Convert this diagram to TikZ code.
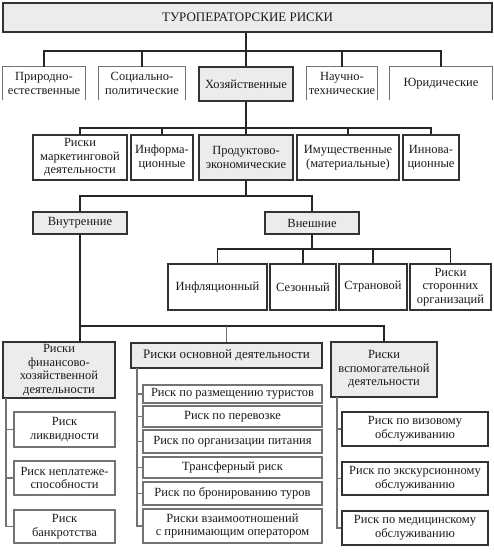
\documentclass[tikz,border=0pt]{standalone}
\usepackage{fontspec}
\setmainfont{Liberation Serif}
\definecolor{boxfill}{HTML}{ECECEC}
\definecolor{txt}{HTML}{1A1A1A}
\newcommand\bx[7]{\node[#6, minimum width={(#4-#2)*1pt}, minimum height={(#5-#3)*1pt}] (#1) at ({(#2+#4)/2},{(#3+#5)/2}) {#7};}
\begin{document}
\begin{tikzpicture}[x=1pt,y=-1pt,
  base/.style={inner sep=0pt, align=center, text=txt, font=\fontsize{12.5}{13.6}\selectfont},
  small/.style={font=\fontsize{12.5}{13.6}\selectfont},
  dark/.style={base, draw=black!80, line width=1.1pt, fill=white},
  grayfill/.style={dark, fill=boxfill},
  light/.style={base, draw=black!55, line width=1.1pt, fill=white},
  open/.style={base},
  conn/.style={draw=black!85, line width=1.1pt},
  lconn/.style={draw=black!55, line width=1.1pt}]
\useasboundingbox (0,0) rectangle (494,553);
% level 0
\bx{top}{3}{3}{492}{32}{grayfill, font=\fontsize{13}{14}\selectfont}{ТУРОПЕРАТОРСКИЕ РИСКИ}
% level 1
\bx{pri}{3}{67}{85}{100}{open}{Природно-\\естественные}
\bx{soc}{99}{67}{185}{100}{open}{Социально-\\политические}
\bx{hoz}{199}{67}{293}{101}{grayfill}{Хозяйственные}
\bx{nau}{307}{67}{377}{100}{open}{Научно-\\технические}
\bx{yur}{390}{67}{492}{100}{open}{Юридические}
\foreach \n in {pri,soc,nau,yur}{
  \draw[lconn] (\n.south west) -- (\n.north west) -- (\n.north east) -- (\n.south east);}
% level 2
\bx{mar}{33}{135}{127}{180}{dark}{Риски\\маркетинговой\\деятельности}
\bx{inf}{131}{135}{193}{180}{dark}{Информа-\\ционные}
\bx{pro}{199}{135}{293}{180}{grayfill}{Продуктово-\\экономические}
\bx{imu}{297}{135}{399}{180}{dark}{Имущественные\\(материальные)}
\bx{inn}{403}{135}{459}{180}{dark}{Иннова-\\ционные}
% level 3
\bx{vnu}{33}{212}{127}{234}{grayfill}{Внутренние}
\bx{vne}{265}{212}{359}{234}{grayfill}{Внешние}
% externals
\bx{e1}{168}{264}{267}{310}{dark}{Инфляционный}
\bx{e2}{270}{264}{336}{310}{dark}{Сезонный}
\bx{e3}{339}{264}{407}{310}{dark}{Страновой}
\bx{e4}{410}{264}{491}{310}{dark}{Риски\\сторонних\\организаций}
% internal groups
\bx{fin}{3}{342}{115}{398}{grayfill}{Риски\\финансово-\\хозяйственной\\деятельности}
\bx{osn}{131}{343}{322}{368}{grayfill, font=\fontsize{13}{14}\selectfont}{Риски основной деятельности}
\bx{vsp}{331}{342}{437}{397}{grayfill}{Риски\\вспомогательной\\деятельности}
% left children
\bx{l1}{14}{412}{115}{447}{light}{Риск\\ликвидности}
\bx{l2}{14}{461}{115}{495}{light}{Риск неплатеже-\\способности}
\bx{l3}{14}{510}{115}{543}{light}{Риск\\банкротства}
% middle children
\bx{m1}{143}{385}{322}{403}{light,small}{Риск по размещению туристов}
\bx{m2}{143}{406}{322}{427}{light,small}{Риск по перевозке}
\bx{m3}{143}{430}{322}{453}{light,small}{Риск по организации питания}
\bx{m4}{143}{457}{322}{478}{light,small}{Трансферный риск}
\bx{m5}{143}{482}{322}{505}{light,small}{Риск по бронированию туров}
\bx{m6}{143}{509}{322}{543}{light,small}{Риски взаимоотношений\\с принимающим оператором}
% right children
\bx{r1}{342}{412}{488}{446}{dark}{Риск по визовому\\обслуживанию}
\bx{r2}{342}{462}{488}{495}{dark}{Риск по экскурсионному\\обслуживанию}
\bx{r3}{342}{511}{488}{545}{dark}{Риск по медицинскому\\обслуживанию}
% helper coordinates
\coordinate (h1) at (0,51);
\coordinate (h2) at (0,128);
\coordinate (h3) at (0,196);
\coordinate (h4) at (0,249);
\coordinate (h5) at (0,326);
\coordinate (lt) at (6,398);
\coordinate (mt) at (137,368);
\coordinate (rt) at (337,397);
% connectors level 0-1
\draw[conn] (hoz.north |- top.south) -- (hoz.north);
\draw[conn] (pri.north) |- (yur.north |- h1) -- (yur.north);
\draw[conn] (soc.north) -- (soc.north |- h1);
\draw[conn] (nau.north) -- (nau.north |- h1);
% level 1-2
\draw[conn] (hoz.south) -- (pro.north);
\draw[conn] (mar.north) |- (inn.north |- h2) -- (inn.north);
\draw[conn] (inf.north) -- (inf.north |- h2);
\draw[conn] (imu.north) -- (imu.north |- h2);
% level 2-3
\draw[conn] (pro.south) -- (pro.south |- h3);
\draw[conn] (vnu.north) |- (vne.north |- h3) -- (vne.north);
% externals
\draw[conn] (vne.south) -- (vne.south |- h4);
\draw[conn] (e1.north) |- (e4.north |- h4) -- (e4.north);
\draw[conn] (e2.north) -- (e2.north |- h4);
\draw[conn] (e3.north) -- (e3.north |- h4);
% internals
\draw[conn] (vnu.south) -- (vnu.south |- fin.north);
\draw[conn] (vnu.south |- h5) -| (vsp.north);
\draw[lconn] (osn.north) -- (osn.north |- h5);
% left children
\draw[lconn] (lt) |- (l3.west);
\draw[lconn] (l1.west) -- (l1.west -| lt);
\draw[lconn] (l2.west) -- (l2.west -| lt);
% middle children
\draw[lconn] (mt) |- (m6.west);
\foreach \n in {m1,m2,m3,m4,m5}{\draw[lconn] (\n.west) -- (\n.west -| mt);}
% right children
\draw[lconn] (rt) |- (r3.west);
\draw[lconn] (r1.west) -- (r1.west -| rt);
\draw[lconn] (r2.west) -- (r2.west -| rt);
\end{tikzpicture}
\end{document}
